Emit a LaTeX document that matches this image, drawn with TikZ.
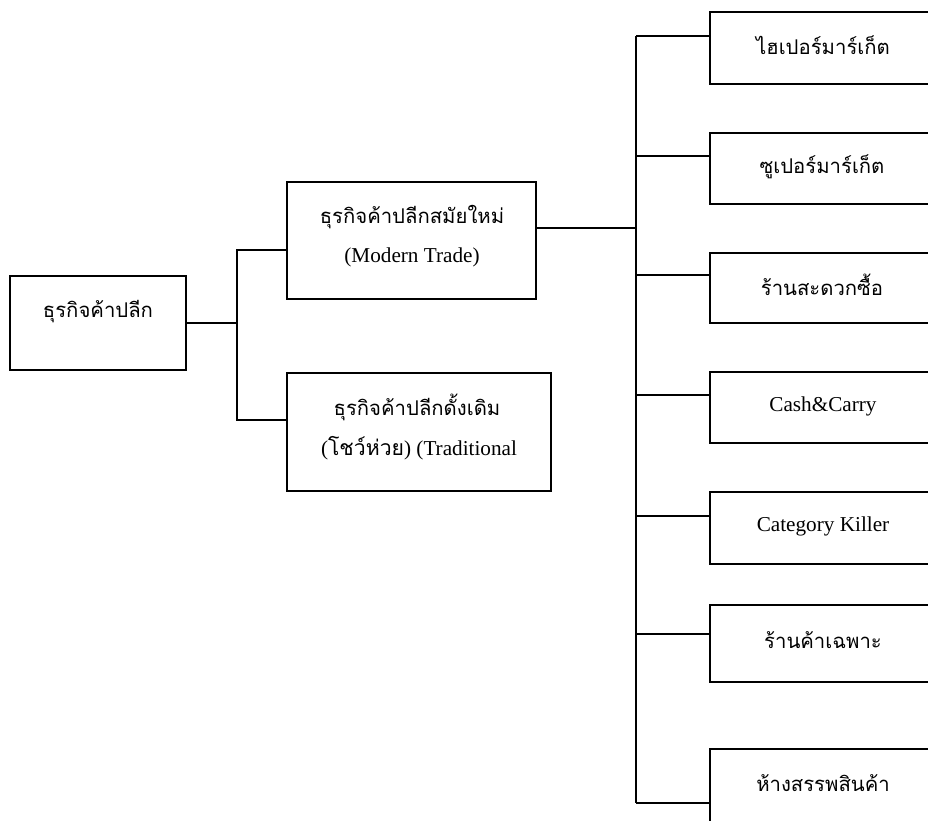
\documentclass[tikz,border=0pt]{standalone}
\usepackage{fontspec}
\setmainfont{Liberation Serif}
\newfontfamily\thai[Script=Thai]{Loma}
\begin{document}
\begin{tikzpicture}[x=1pt,y=-1pt,
  box/.style={draw, line width=1.1pt, inner sep=0pt, outer sep=0pt, rectangle},
  lbl/.style={inner sep=0pt, font=\fontsize{21.2}{25}\selectfont},
  tlbl/.style={inner sep=0pt, font=\thai\fontsize{20.3}{24}\selectfont},
  wire/.style={line width=1.1pt}]
\clip (0,0) rectangle (928,821);
\fill[white] (0,0) rectangle (928,821);

% tree boxes
\node[box, minimum width=176pt, minimum height=94pt] (root) at (98,323) {};
\node[box, minimum width=249pt, minimum height=117pt] (modern) at (411.5,240.5) {};
\node[box, minimum width=264pt, minimum height=118pt] (trad) at (419,432) {};

\node[box, minimum width=250pt, minimum height=72pt] (r1) at (835,48) {};
\node[box, minimum width=250pt, minimum height=71pt] (r2) at (835,168.5) {};
\node[box, minimum width=250pt, minimum height=70pt] (r3) at (835,288) {};
\node[box, minimum width=250pt, minimum height=71pt] (r4) at (835,407.5) {};
\node[box, minimum width=250pt, minimum height=72pt] (r5) at (835,528) {};
\node[box, minimum width=250pt, minimum height=77pt] (r6) at (835,643.5) {};
\node[box, minimum width=250pt, minimum height=91pt] (r7) at (835,794.5) {};

% labels
\node[tlbl] (t0) at (98,312) {ธุรกิจค้าปลีก};
\node[tlbl] (tm1) at (412,217) {ธุรกิจค้าปลีกสมัยใหม่};
\node[lbl] (tm2) at (412,257) {(Modern Trade)};
\node[tlbl] (tt1) at (417,407) {ธุรกิจค้าปลีกดั้งเดิม};
\node[lbl] (tt2) at (419,448) {({\thai โชว์ห่วย}) (Traditional};

\node[tlbl] (l1) at (823,45) {ไฮเปอร์มาร์เก็ต};
\node[tlbl] (l2) at (822,167) {ซูเปอร์มาร์เก็ต};
\node[tlbl] (l3) at (822,285) {ร้านสะดวกซื้อ};
\node[lbl] (l4) at (823,406) {Cash\&Carry};
\node[lbl] (l5) at (823,526) {Category Killer};
\node[tlbl] (l6) at (823,640) {ร้านค้าเฉพาะ};
\node[tlbl] (l7) at (823,783) {ห้างสรรพสินค้า};

% left fork
\coordinate (jL) at (237,324);
\coordinate (jM) at (237,250);
\coordinate (jT) at (237,420);
\draw[wire] (root.east) -- (root.east -| jL);
\draw[wire] (jM -| modern.west) -- (jM) -- (jT) -- (jT -| trad.west);

% right bus
\coordinate (bm) at (636,228);
\draw[wire] (bm -| modern.east) -- (bm);
\coordinate (c1) at (636,36);
\coordinate (c2) at (636,156);
\coordinate (c3) at (636,275);
\coordinate (c4) at (636,395);
\coordinate (c5) at (636,516);
\coordinate (c6) at (636,634);
\coordinate (c7) at (636,803);
\draw[wire] (c1) -- (c7);
\foreach \i in {1,...,7} {
  \draw[wire] (c\i) -- (c\i -| r\i.west);
}
\end{tikzpicture}
\end{document}
